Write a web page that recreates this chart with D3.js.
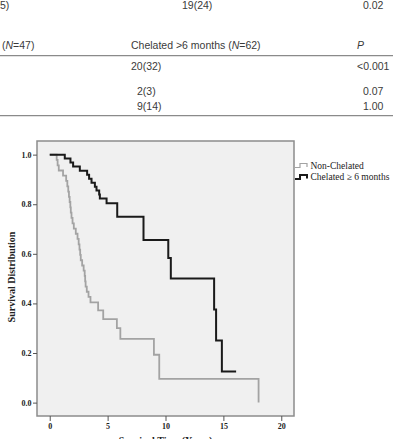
<!DOCTYPE html>
<html>
<head>
<meta charset="utf-8">
<script src="https://cdn.jsdelivr.net/npm/d3@7"></script>
<style>
  body { margin: 0; background: #fff; }
  svg { display: block; }
</style>
</head>
<body>
<div id="chart"></div>
<script>
// Données (Kaplan-Meier)
const nonChelTimes = [0, 0.6, 0.68, 0.78, 1.15, 1.42, 1.52, 1.6, 1.66, 1.72, 1.78, 1.82, 1.88, 1.97, 2.08, 2.25, 2.4, 2.5, 2.57, 2.63, 2.68, 2.8, 2.93, 3.02, 3.06, 3.1, 3.2, 3.35, 3.52, 4.18, 4.62, 5.8, 6.1, 9.0, 9.46, 18.04];
const nonChelSurv  = [1, 0.979, 0.957, 0.936, 0.915, 0.894, 0.872, 0.851, 0.83, 0.809, 0.787, 0.766, 0.745, 0.723, 0.702, 0.681, 0.66, 0.638, 0.617, 0.596, 0.574, 0.553, 0.532, 0.511, 0.489, 0.468, 0.447, 0.426, 0.404, 0.372, 0.337, 0.3, 0.257, 0.193, 0.096, 0];
const chelTimes = [0, 1.3, 1.79, 2.02, 2.6, 3.23, 3.4, 3.61, 3.9, 4.04, 4.27, 4.33, 4.91, 5.83, 8.1, 10.24, 10.46, 14.2, 14.37, 14.87, 16.1];
const chelSurv  = [1, 0.984, 0.968, 0.952, 0.935, 0.919, 0.903, 0.887, 0.871, 0.855, 0.839, 0.823, 0.804, 0.75, 0.656, 0.583, 0.5, 0.375, 0.25, 0.125, 0.125];

const xTicks = [0, 5, 10, 15, 20];
const yTicks = [0, 0.2, 0.4, 0.6, 0.8, 1.0];
const legendLabels = ["Non-Chelated", "Chelated \u2265 6 months"];

// Fragments du tableau au-dessus de la figure
const tableRows = [
  { cells: ["5)", "19(24)", "0.02"], cy: 5.6 },
  { cells: ["(N=47)", "Chelated >6 months (N=62)", "P"], cy: 45.7, header: true },
  { cells: ["", "20(32)", "<0.001"], cy: 66.7 },
  { cells: ["", "2(3)", "0.07"], cy: 91.7 },
  { cells: ["", "9(14)", "1.00"], cy: 106 }
];

const W = 394, H = 439;
const svg = d3.select("#chart").append("svg")
  .attr("width", W).attr("height", H);

// ---- tableau
const tableFont = "'Liberation Sans', Arial, sans-serif";
const colX = [[0, 182, 363], [2, 131, 357], [0, 131, 357], [0, 137, 363], [0, 137, 363]];
tableRows.forEach((row, i) => {
  row.cells.forEach((c, j) => {
    if (!c) return;
    const t = svg.append("text")
      .attr("x", colX[i][j])
      .attr("y", row.cy + 3.6)
      .attr("font-family", tableFont)
      .attr("font-size", 10.5)
      .attr("fill", "#3a3a3a");
    if (row.header) {
      // N et P en italique
      const parts = c.split(/(N|P)/);
      parts.forEach(p => {
        if (!p) return;
        t.append("tspan").text(p).attr("font-style", (p === "N" || p === "P") ? "italic" : null);
      });
    } else {
      t.text(c);
    }
  });
});
[55.7, 115.7].forEach(yy => {
  svg.append("line")
    .attr("x1", 0).attr("x2", 393)
    .attr("y1", yy).attr("y2", yy)
    .attr("stroke", "#8a8a8a").attr("stroke-width", 1.2);
});

// ---- graphique
const x = d3.scaleLinear().domain([-1.1, 21.1]).range([37, 294]);
const y = d3.scaleLinear().domain([-0.054, 1.055]).range([416, 141]);

svg.append("rect")
  .attr("x", x.range()[0]).attr("y", y.range()[1])
  .attr("width", x.range()[1] - x.range()[0])
  .attr("height", y.range()[0] - y.range()[1])
  .attr("fill", "#f0f0f0")
  .attr("stroke", "#8c8c8c").attr("stroke-width", 1.5);

const serif = "'Liberation Serif', 'Times New Roman', serif";

const yAxis = svg.append("g")
  .attr("transform", `translate(${x.range()[0]},0)`)
  .call(d3.axisLeft(y).tickValues(yTicks).tickFormat(d3.format(".1f")).tickSize(4).tickPadding(1.5));
yAxis.select(".domain").remove();
yAxis.selectAll("line").attr("stroke", "#555");
yAxis.selectAll("text")
  .attr("font-family", serif).attr("font-weight", "bold")
  .attr("font-size", 8).attr("fill", "#222");

const xAxis = svg.append("g")
  .attr("transform", `translate(0,${y.range()[0]})`)
  .call(d3.axisBottom(x).tickValues(xTicks).tickFormat(d3.format("d")).tickSize(5).tickPadding(2));
xAxis.select(".domain").remove();
xAxis.selectAll("line").attr("stroke", "#555");
xAxis.selectAll("text")
  .attr("font-family", serif).attr("font-weight", "bold")
  .attr("font-size", 8).attr("fill", "#222");

svg.append("text")
  .attr("transform", `translate(15,277) rotate(-90)`)
  .attr("text-anchor", "middle")
  .attr("font-family", serif).attr("font-weight", "bold")
  .attr("font-size", 10).attr("fill", "#222")
  .text("Survival Distribution");

svg.append("text")
  .attr("x", (x.range()[0] + x.range()[1]) / 2)
  .attr("y", 444)
  .attr("text-anchor", "middle")
  .attr("font-family", serif).attr("font-weight", "bold")
  .attr("font-size", 10).attr("fill", "#222")
  .text("Survival Time (Years)");

const line = d3.line()
  .x(d => x(d[0]))
  .y(d => y(d[1]))
  .curve(d3.curveStepAfter);

const series = [
  { name: legendLabels[0], data: d3.zip(nonChelTimes, nonChelSurv), color: "#a3a3a3", width: 1.8 },
  { name: legendLabels[1], data: d3.zip(chelTimes, chelSurv), color: "#1a1a1a", width: 2 }
];

svg.selectAll("path.km")
  .data(series)
  .enter()
  .append("path")
  .attr("class", "km")
  .attr("d", d => line(d.data))
  .attr("fill", "none")
  .attr("stroke", d => d.color)
  .attr("stroke-width", d => d.width);

// ---- légende
const legend = svg.append("g").attr("transform", "translate(295,166)");
series.forEach((s, i) => {
  const g = legend.append("g").attr("transform", `translate(0,${i * 11.5})`);
  g.append("path")
    .attr("d", "M0,1.5 H5 V-2.5 H12 V1")
    .attr("fill", "none")
    .attr("stroke", s.color)
    .attr("stroke-width", i === 0 ? 1.2 : 2);
  g.append("text")
    .attr("x", 15.5).attr("y", 2.5)
    .attr("font-family", serif)
    .attr("font-size", 9.5).attr("fill", "#222")
    .text(s.name);
});
</script>
</body>
</html>
